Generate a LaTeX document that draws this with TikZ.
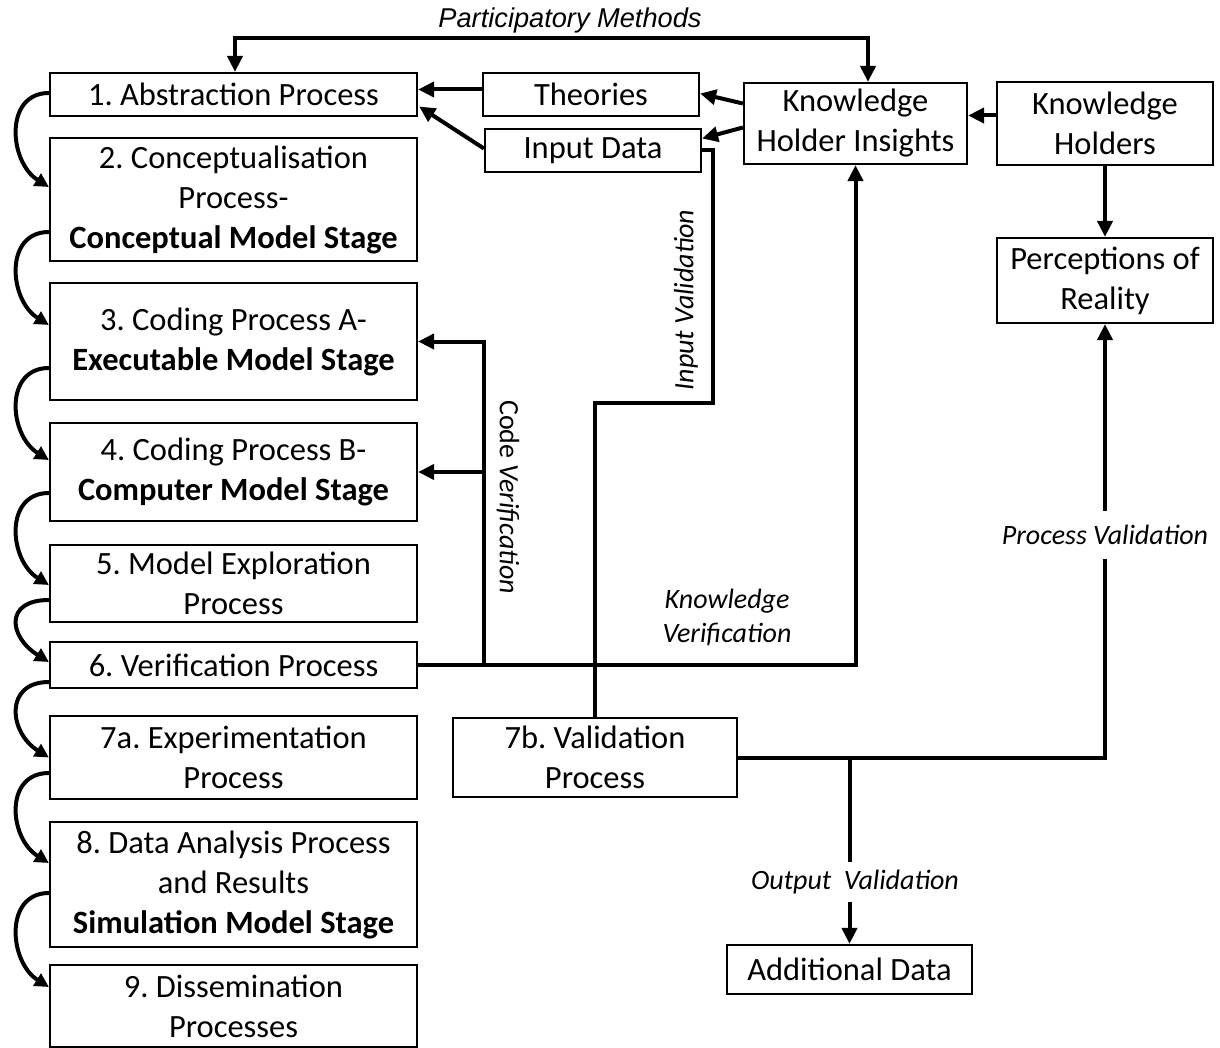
\documentclass[tikz,border=0pt]{standalone}
\usepackage{fontspec}
\setmainfont{Carlito}
\newfontfamily\labelsans{Liberation Sans}
\usetikzlibrary{arrows.meta,calc}

\frenchspacing
\newcommand\boxfont{\fontsize{16.25}{20}\selectfont}
\newcommand\lblfont{\fontsize{14}{17}\selectfont\itshape}

\tikzset{
  box/.style={draw, line width=1.1pt, inner sep=0pt, align=center, font=\boxfont},
  stagebox/.style={box, minimum width=183.5pt},
  conn/.style={line width=2pt},
  arr/.style={conn, -{Triangle[length=8pt,width=7.5pt]}},
  arrboth/.style={conn, {Triangle[length=8pt,width=7.5pt]}-{Triangle[length=8pt,width=7.5pt]}},
  loop/.style={line width=2pt, -{Triangle[length=7pt,width=7pt]}},
  lbl/.style={font=\lblfont, align=center, inner sep=1pt},
}

% chain arrow between the left edges of two consecutive stages
\newcommand\chainarrow[4]{%
  \draw[loop] ($(#1.west)+(0,#2)$) coordinate (s)
    .. controls ($(s)+(-45,0)$) and ($(#3.west)+(-40,#4-25)$) ..
    ($(#3.west)+(0,#4)$);}

\begin{document}
\begin{tikzpicture}[x=0.5pt, y=-0.5pt]
\useasboundingbox (0,0) rectangle (1220,1048);

% process stages
\node[stagebox, minimum height=21.5pt] (b1) at (233.5,94.5) {1. Abstraction Process};
\node[stagebox, minimum height=61.5pt] (b2) at (233.5,199.5) {2. Conceptualisation\\Process-\\\textbf{Conceptual Model Stage}};
\node[stagebox, minimum height=58.5pt] (b3) at (233.5,341.5) {3. Coding Process A-\\\textbf{Executable Model Stage}};
\node[stagebox, minimum height=49pt] (b4) at (233.5,472) {4. Coding Process B-\\\textbf{Computer Model Stage}};
\node[stagebox, minimum height=38.5pt] (b5) at (233.5,583.5) {5. Model Exploration\\Process};
\node[stagebox, minimum height=23pt] (b6) at (233.5,665) {6. Verification Process};
\node[stagebox, minimum height=41.5pt] (b7) at (233.5,757.5) {7a. Experimentation\\Process};
\node[stagebox, minimum height=62.5pt] (b8) at (233.5,884.5) {8. Data Analysis Process\\and Results\\\textbf{Simulation Model Stage}};
\node[stagebox, minimum height=41pt] (b9) at (233.5,1006) {9. Dissemination\\Processes};

% sources of knowledge
\node[box, minimum width=108pt, minimum height=21.5pt] (theo) at (591,94.5) {Theories};
\node[box, minimum width=108pt, minimum height=21.5pt] (inp) at (593,150.5) {Input Data};
\node[box, minimum width=111.5pt, minimum height=40.5pt] (khi) at (855.5,123.5) {Knowledge\\Holder Insights};
\node[box, minimum width=108pt, minimum height=41.5pt] (kh) at (1105,123.5) {Knowledge\\Holders};
\node[box, minimum width=108pt, minimum height=42.5pt] (perc) at (1105,280.5) {Perceptions of\\Reality};
\node[box, minimum width=142pt, minimum height=39.5pt] (val) at (595,757.5) {7b. Validation\\Process};
\node[box, minimum width=122.5pt, minimum height=24.5pt] (ad) at (849.5,969.5) {Additional Data};

% chain of stages
\chainarrow{b1}{-1.5}{b2}{-12.5}
\chainarrow{b2}{32.5}{b3}{-16.5}
\chainarrow{b3}{26.5}{b4}{-12}
\chainarrow{b4}{21}{b5}{1.5}
\chainarrow{b5}{16.5}{b6}{-3}
\chainarrow{b6}{17}{b7}{0}
\chainarrow{b7}{15.5}{b8}{-21.5}
\chainarrow{b8}{8.5}{b9}{-19}

% participatory methods
\coordinate (pmL) at (235,38);
\coordinate (pmR) at (868,38);
\draw[arrboth] (pmL |- b1.north) -- (pmL) -- (pmR) -- (pmR |- khi.north);
\node[font=\labelsans\fontsize{13.6}{16}\selectfont\itshape, inner sep=0pt] (pmlabel) at (570,20) {Participatory Methods};

% inputs to abstraction
\draw[arr] ($(theo.west)+(0,-5)$) -- ($(b1.east)+(0,-5)$);
\draw[arr] ($(inp.west)+(0,-2)$) -- ($(b1.east)+(1,12)$);
\draw[arr] ($(khi.west)+(0,-20)$) -- ($(theo.east)+(0,-1)$);
\draw[arr] ($(khi.west)+(0,4)$) -- ($(inp.east)+(0,-12)$);
\draw[arr] ($(kh.west)+(0,-8)$) -- ($(khi.east)+(0,-8)$);
\draw[arr] (kh.south) -- (perc.north);

% input validation
\coordinate (iv) at (713,403);
\draw[conn] (inp.east) -| (iv) -| (val.north);
\node[lbl, rotate=90] (ivlabel) at (686,300) {Input Validation};

% verification
\coordinate (cv) at ($(b6.east)+(66,0)$);
\draw[arr] (b6.east) -| (khi.south);
\draw[arr] (cv) |- (b3.east);
\draw[arr] (cv |- b4.east) -- (b4.east);
\node[lbl, rotate=-90] (cvlabel) at (508,497) {\upshape Code \itshape Verification};
\node[lbl] (kvlabel) at (727,617) {Knowledge\\Verification};

% validation
\draw[arr] (val.east) -| (perc.south);
\coordinate (ob) at (val.east -| ad.north);
\draw[arr] (ob) -- (ad.north);
\node[lbl, fill=white, inner ysep=7pt] (pvlabel) at (1105,535) {Process Validation};
\node[lbl, fill=white, inner xsep=1pt, inner ysep=4pt] (ovlabel) at (855,882) {Output\ \ Validation};

\end{tikzpicture}
\end{document}
